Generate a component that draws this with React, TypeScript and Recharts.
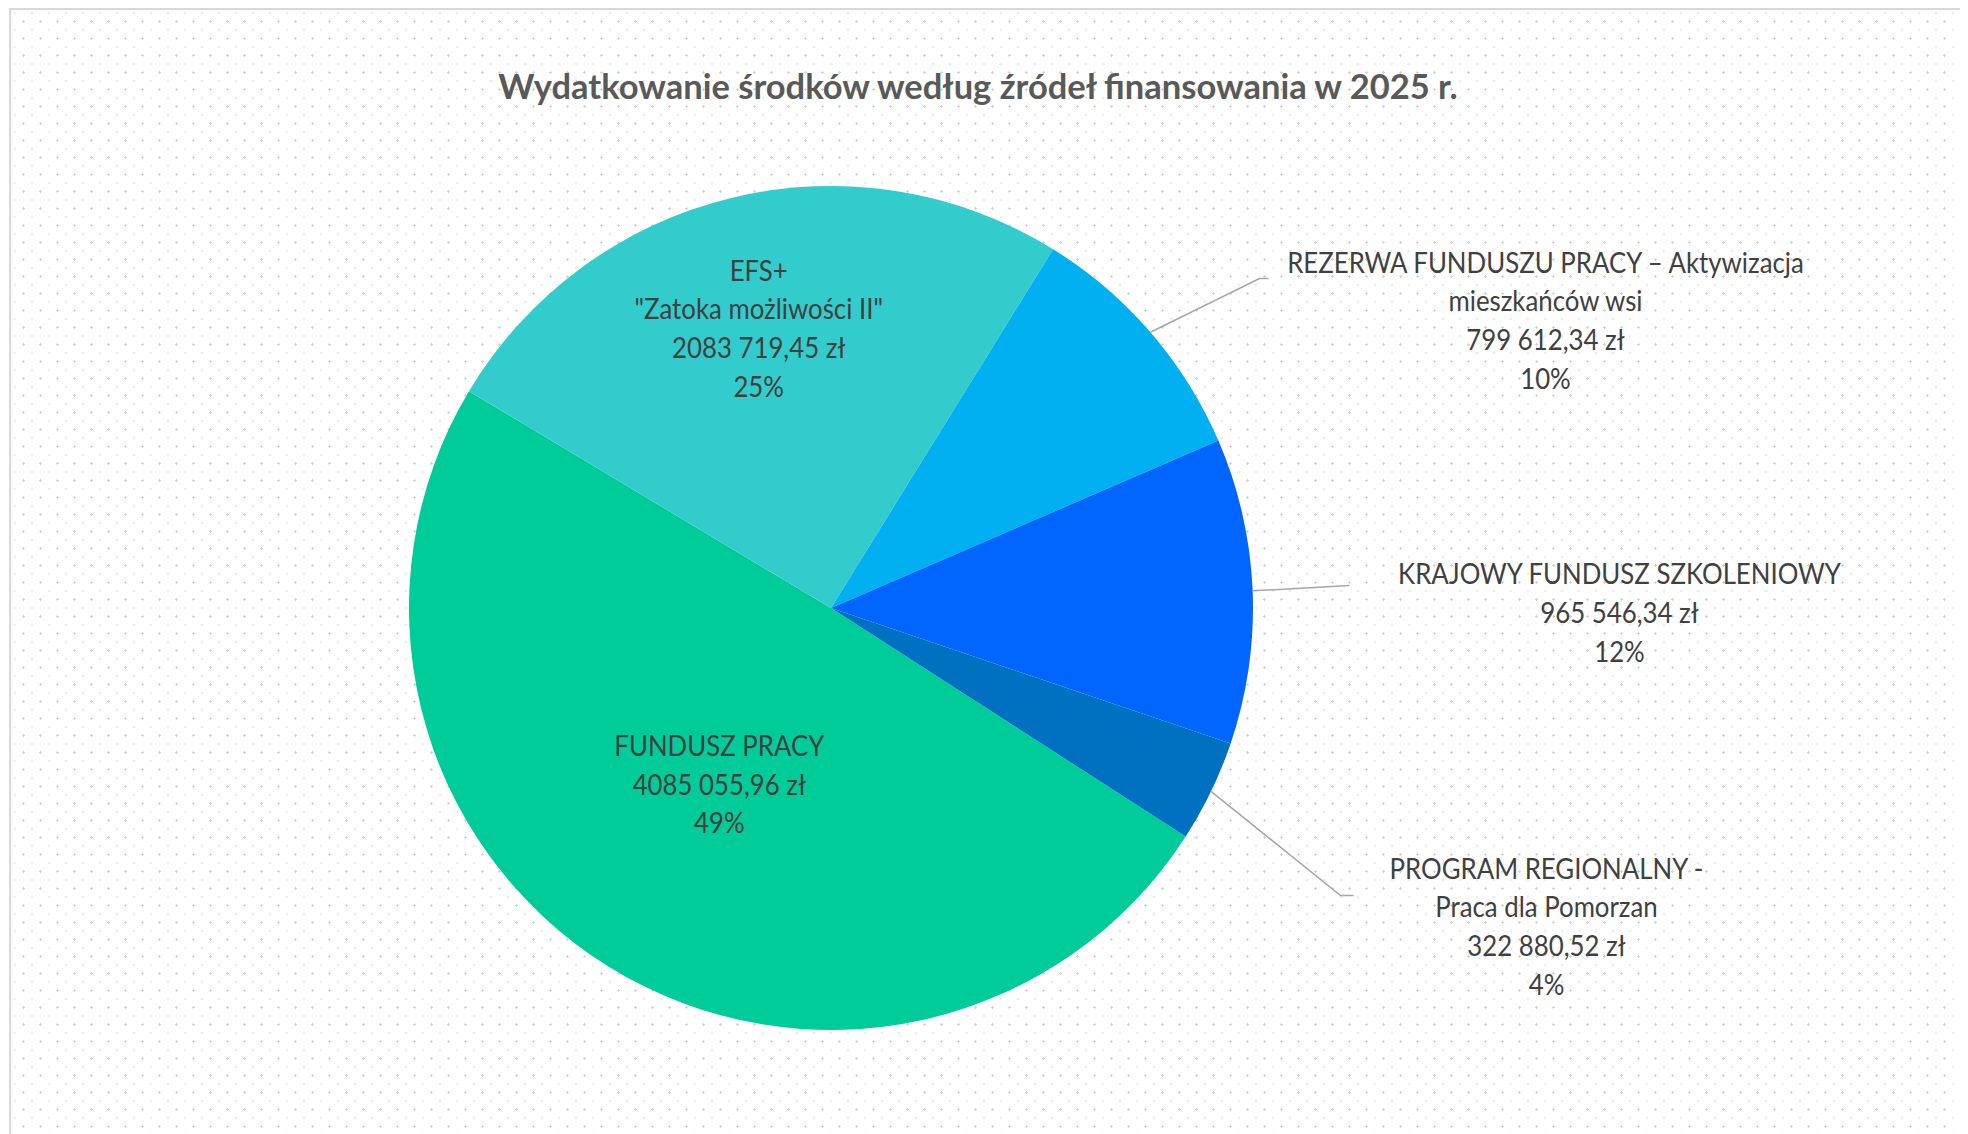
import { Cell, Pie, PieChart } from "recharts";

const SOURCES = [
  "FUNDUSZ PRACY",
  "EFS+\n\"Zatoka możliwości II\"",
  "REZERWA FUNDUSZU PRACY – Aktywizacja\nmieszkańców wsi",
  "KRAJOWY FUNDUSZ SZKOLENIOWY",
  "PROGRAM REGIONALNY -\nPraca dla Pomorzan",
];
const AMOUNTS = [4085055.96, 2083719.45, 799612.34, 965546.34, 322880.52];
const COLORS = ["#00CC99", "#33CCCC", "#00B0F0", "#0066FF", "#0070C0"];

const data = SOURCES.map((name, i) => ({ name, value: AMOUNTS[i] }));

// label placement: inside labels use a radius factor, outside ones an elbow + text block offset from the pie centre
const LAYOUT: any[] = [
  { inside: 0.488, dx: -3 },
  { inside: 0.685, dx: -4 },
  { elbow: [428.5, -329.5], tail: [437.5, -329.5], text: [714.5, -289] },
  { elbow: [518.5, -22.5], tail: [518.5, -22.5], text: [788.5, 3.5] },
  { elbow: [509.5, 287.5], tail: [522.5, 287.5], text: [715.5, 317] },
];

const LINE_H = 38.7;
const RAD = Math.PI / 180;
const SQUEEZE = 0.89; // calibri-ish narrow look

function formatZl(v: number) {
  const [int, dec] = v.toFixed(2).split(".");
  const head = int.slice(0, -3);
  return `${head ? head + " " : ""}${int.slice(-3)},${dec} zł`;
}

function renderLabel(props: any) {
  const { cx, cy, midAngle, outerRadius, percent, index, name, value } = props;
  const cfg = LAYOUT[index];
  const lines = [...String(name).split("\n"), formatZl(value), `${Math.round(percent * 100)}%`];
  let tx: number;
  let ty: number;
  let leader = null;
  if (cfg.inside) {
    const r = outerRadius * cfg.inside;
    tx = cx + r * Math.cos(-midAngle * RAD) + cfg.dx;
    ty = cy + r * Math.sin(-midAngle * RAD);
  } else {
    const sx = cx + outerRadius * Math.cos(-midAngle * RAD);
    const sy = cy + outerRadius * Math.sin(-midAngle * RAD);
    const pts = [
      [sx, sy],
      [cx + cfg.elbow[0], cy + cfg.elbow[1]],
      [cx + cfg.tail[0], cy + cfg.tail[1]],
    ];
    leader = <polyline points={pts.map((p) => p.join(",")).join(" ")} fill="none" stroke="#a6a6a6" strokeWidth={1.5} />;
    tx = cx + cfg.text[0];
    ty = cy + cfg.text[1];
  }
  const top = ty - ((lines.length - 1) * LINE_H) / 2;
  return (
    <g key={`lbl-${index}`}>
      {leader}
      <text
        transform={`translate(${tx} 0) scale(${SQUEEZE} 1) translate(${-tx} 0)`}
        textAnchor="middle"
        dominantBaseline="central"
        fill="#404040"
        fontSize={29}
        fontFamily="Lato, sans-serif"
      >
        {lines.map((l, i) => (
          <tspan key={i} x={tx} y={top + i * LINE_H}>
            {l}
          </tspan>
        ))}
      </text>
    </g>
  );
}

export default function App() {
  return (
    <div
      style={{
        position: "relative",
        width: 1954,
        height: 1140,
        marginLeft: 1,
        boxSizing: "border-box",
        border: "2px solid #d9d9d9",
        backgroundColor: "#ffffff",
        backgroundImage:
          "radial-gradient(circle, #d3d3d3 1px, transparent 1.4px), radial-gradient(circle, #e2e2e2 0.9px, transparent 1.3px)",
        backgroundSize: "17px 17px, 17px 17px",
        backgroundPosition: "4px 3px, 12.5px 11.5px",
      }}
    >
      <style>{"body{overflow:hidden}"}</style>
      <div
        style={{
          position: "absolute",
          top: 59,
          left: 0,
          width: 1934,
          textAlign: "center",
          fontFamily: "Lato, sans-serif",
          fontWeight: 700,
          fontSize: 34.5,
          lineHeight: 1,
          color: "#595959",
        }}
      >
        Wydatkowanie środków według źródeł finansowania w 2025 r.
      </div>
      <PieChart width={1950} height={1130} margin={{ top: 0, right: 0, bottom: 0, left: 0 }}>
        <Pie
          data={data}
          dataKey="value"
          nameKey="name"
          cx={820}
          cy={598}
          outerRadius={422}
          startAngle={-32.8}
          endAngle={-392.8}
          stroke="none"
          label={renderLabel}
          labelLine={false}
          isAnimationActive={false}
        >
          {data.map((d, i) => (
            <Cell key={d.name} fill={COLORS[i]} />
          ))}
        </Pie>
      </PieChart>
    </div>
  );
}
